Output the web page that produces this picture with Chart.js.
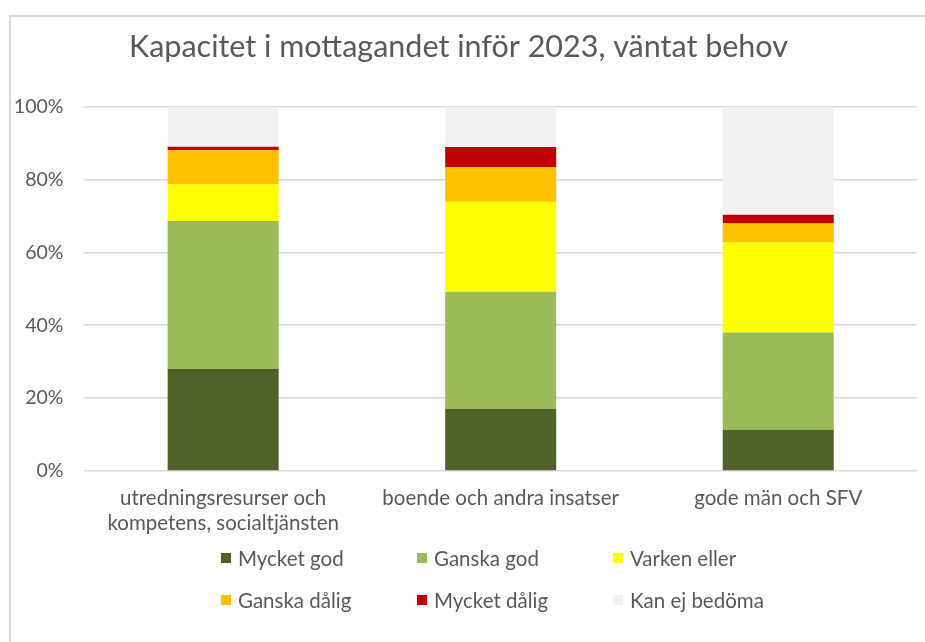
<!DOCTYPE html>
<html lang="sv">
<head>
    <meta charset="UTF-8">
    <title>Kapacitet i mottagandet inför 2023</title>
    <script src="https://cdn.jsdelivr.net/npm/chart.js"></script>
    <style>
        body { margin: 0; background: #fff; font-family: Lato, sans-serif; }
        #wrap { position: relative; width: 925px; height: 642px; overflow: hidden; }
        #frame { position: absolute; left: 9px; top: 15px; width: 940px; height: 660px; border: 2px solid #d9d9d9; box-sizing: border-box; }
        #myChart { position: absolute; left: 0; top: 0; }
        #legend { position: absolute; left: 221px; top: 537px; display: grid; grid-template-columns: 196px 196px 196px; grid-auto-rows: 42px; }
        .item { display: flex; align-items: center; font-size: 20.5px; color: #595959; }
        .box { width: 10px; height: 10px; margin-right: 7px; }
    </style>
</head>
<body>
<div id="wrap">
    <div id="frame"></div>
    <canvas id="myChart" width="925" height="548"></canvas>
    <div id="legend"></div>
</div>
<script>
    const categories = [['utredningsresurser och', 'kompetens, socialtjänsten'], 'boende och andra insatser', 'gode män och SFV'];
    const seriesNames = ['Mycket god', 'Ganska god', 'Varken eller', 'Ganska dålig', 'Mycket dålig', 'Kan ej bedöma'];
    const mycketGod = [28.0, 17.1, 11.3];
    const ganskaGod = [40.6, 32.1, 26.7];
    const varkenEller = [10.0, 24.7, 24.7];
    const ganskaDalig = [9.4, 9.5, 5.2];
    const mycketDalig = [1.0, 5.5, 2.4];
    const kanEj = [11.0, 11.1, 29.7];
    const yTicks = [0, 20, 40, 60, 80, 100];

    const colors = ['#4f6228', '#9bbb59', '#ffff00', '#ffc000', '#c00000', '#f2f2f2'];
    const values = [mycketGod, ganskaGod, varkenEller, ganskaDalig, mycketDalig, kanEj];

    const datasets = seriesNames.map((name, i) => ({
        label: name,
        data: values[i],
        backgroundColor: colors[i],
        borderWidth: 0,
        barPercentage: 0.4,
        categoryPercentage: 1
    }));

    const ctx = document.getElementById('myChart').getContext('2d');
    const myChart = new Chart(ctx, {
        type: 'bar',
        data: { labels: categories, datasets: datasets },
        options: {
            responsive: false,
            animation: false,
            layout: { padding: { left: 0, right: 8, top: 0, bottom: 5 } },
            plugins: {
                legend: { display: false },
                tooltip: { enabled: false },
                title: {
                    display: true,
                    text: 'Kapacitet i mottagandet inför 2023, väntat behov',
                    color: '#595959',
                    font: { family: 'Lato', size: 30.5, weight: 'normal' },
                    padding: { top: 29, bottom: 41 }
                }
            },
            scales: {
                x: {
                    stacked: true,
                    grid: { display: false },
                    border: { display: false },
                    ticks: {
                        color: '#595959',
                        font: { family: 'Lato', size: 20.5, lineHeight: 1.22 },
                        padding: 7,
                        maxRotation: 0
                    }
                },
                y: {
                    stacked: true,
                    min: 0,
                    max: 100,
                    afterBuildTicks: (scale) => { scale.ticks = yTicks.map(v => ({ value: v })); },
                    afterFit: (scale) => { scale.width = 84.4; },
                    grid: { color: '#d9d9d9', lineWidth: 1.5, drawTicks: false },
                    border: { display: false },
                    ticks: {
                        color: '#595959',
                        font: { family: 'Lato', size: 19.5 },
                        padding: 21,
                        callback: (v) => v + '%'
                    }
                }
            }
        }
    });

    // legend in three columns, like the original
    const legend = document.getElementById('legend');
    seriesNames.forEach((name, i) => {
        const item = document.createElement('div');
        item.className = 'item';
        const box = document.createElement('span');
        box.className = 'box';
        box.style.background = colors[i];
        item.appendChild(box);
        item.appendChild(document.createTextNode(name));
        legend.appendChild(item);
    });
</script>
</body>
</html>
